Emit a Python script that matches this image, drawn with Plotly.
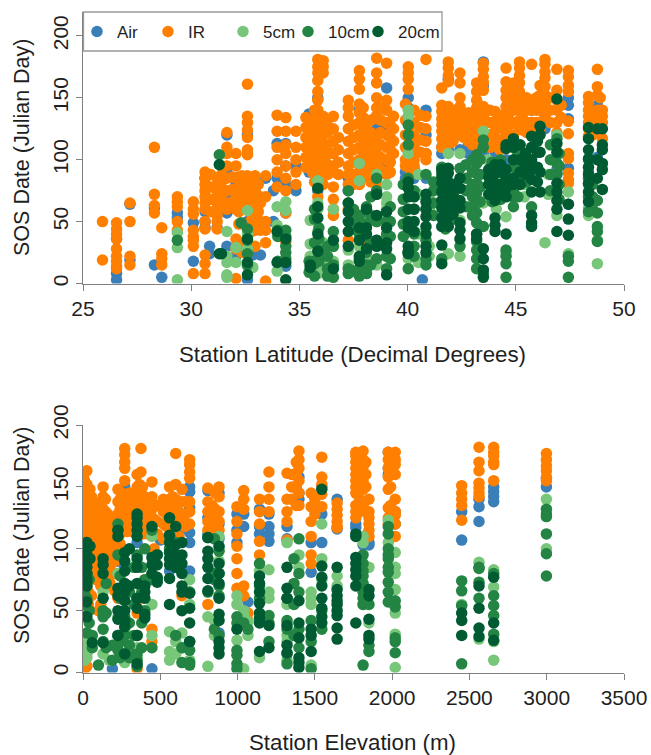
import plotly.graph_objects as go

SERIES = ["Air", "IR", "5cm", "10cm", "20cm"]
COLORS = ["#3b7fb9", "#ff7f00", "#78c679", "#238443", "#005a32"]
LEGEND_WIDTHS = [26, 30, 20, 25, 50]
LAT_TICKS = [25, 30, 35, 40, 45, 50]
ELEV_TICKS = [0, 500, 1000, 1500, 2000, 2500, 3000, 3500]
SOS_TICKS = [0, 50, 100, 150, 200]

# Latitude panel: station latitude, SOS dates read at that latitude
air_lat = [26.55, 27.17, 28.3, 28.64, 29.36, 30.1, 30.64, 30.85, 31.2, 31.65, 32.07, 32.6, 32.85, 32.95, 33.2, 33.44,
           33.8, 33.97, 34.37, 34.84, 35.45, 35.6, 35.85, 36.2, 37.26, 37.77, 38.57, 39.03, 39.9, 40.03, 40.3,
           40.68, 40.85, 41.58, 41.88, 42.42, 42.81, 43.19, 43.5, 44.04, 44.55, 45.73, 46.35, 46.9, 47.43, 48.36, 48.77]
air_lat_sos = [[36, 8, 3], [64, 19], [61, 15], [5], [57, 53], [49, 18], [85, 58, 50, 45], [30, 24], [60, 45], [120, 90, 72, 57, 30],
               [80, 22], [120, 105, 50, 3], [23], [85, 75], [23], [85],
               [75, 50], [113, 85], [113, 95, 80, 57, 14], [95, 75], [137, 125, 115, 100, 90], [128, 110], [150, 137, 120, 75], [125, 110, 95],
               [85, 75], [140, 90, 82], [135, 125, 122, 102], [158, 125, 95, 90], [85, 90, 80], [150, 142, 108, 95], [105, 92, 85],
               [3], [140, 120, 105, 85], [110, 105], [165, 112, 108], [108], [112, 105], [112, 100], [179, 160, 105], [106, 100], [110, 100],
               [140, 130], [130, 125], [92, 88], [150, 144, 133, 93, 64], [100, 90, 80], [144, 102]]

ir_lat = [25.9, 26.55, 27.17, 28.3, 28.64, 29.36, 30.1, 30.64, 31.2, 31.65, 32.07, 32.35, 32.6, 32.95, 33.2, 33.44, 33.97, 34.37, 34.84,
          35.45, 35.6, 35.85, 36.1, 36.57, 37.26, 37.77, 38.1, 38.57, 39.03, 39.9, 40.03, 40.3, 40.85, 41.58, 41.88, 42.1,
          42.42, 42.81, 43.19, 43.5, 43.8, 44.04, 44.55, 44.89, 45.17, 45.5, 45.73, 46.12, 46.35, 46.9, 47.43, 48.36, 48.77, 49.0,
          30.9, 31.4, 31.9, 32.2, 32.8, 33.1, 35.3, 35.7, 36.3, 36.8, 37.5, 37.95, 38.3, 38.75, 39.2, 39.35, 40.15, 40.6,
          41.7, 42.0, 42.6, 43.0, 43.35, 44.25, 44.7, 45.3, 45.95, 46.6, 47.1, 48.55, 48.9]
ir_lat_sos = [[50, 19], [49, 44, 40, 36, 28, 22, 18, 14, 12], [65, 50, 22, 15], [110, 72, 63, 57], [45, 24, 20, 15], [70, 66, 62, 50, 43],
              [66, 60, 56, 43, 38, 35, 30, 8], [90, 85, 80, 75, 70, 65, 60, 50, 44, 23, 16, 8], [85, 80, 75, 70, 65, 60, 55, 50, 44],
              [122, 110, 105, 95, 85, 75, 65, 60], [105, 95, 85, 72, 65, 60, 36, 28, 4], [87, 80, 72, 66, 62, 33, 25],
              [161, 135, 130, 124, 118, 108, 104, 87, 80, 72, 65, 60, 44], [87, 80, 75, 68, 60, 50, 43, 30], [70, 65, 50, 45, 43], [87, 70, 50, 43, 33, 2],
              [136, 123, 110, 100, 90, 78], [134, 123, 112, 105, 95, 85, 75, 57, 34], [123, 110, 100, 90, 80],
              [120, 112, 105, 98], [128, 120, 112, 104, 96, 90], [181, 175, 170, 164, 155, 148, 140, 135, 125, 115, 105, 95, 85, 70],
              [180, 175, 170, 135, 128, 120, 112, 105, 98, 90, 80], [135, 125, 115, 105, 95, 90, 78, 68, 60, 55],
              [148, 142, 135, 125, 115, 105, 95, 88, 80, 60, 35], [172, 165, 157, 145, 138, 130, 120, 110, 100, 90, 80],
              [125, 118, 108, 100, 95, 92, 88, 58, 36], [182, 170, 162, 150, 142, 135, 115, 105, 97, 90, 85, 80], [178, 148, 140, 130, 120, 110, 100, 90, 88],
              [145, 132, 120, 110, 100, 95], [175, 170, 165, 157, 130, 120, 100], [140, 130, 120, 110, 100, 95], [181, 135, 125, 115, 105, 100],
              [158, 144, 139, 133, 128, 123, 117, 110], [179, 174, 168, 163, 143, 135, 128, 113], [140, 130, 122, 115],
              [170, 162, 150, 143, 136, 131, 125, 120], [138, 130, 122, 115], [162, 155, 148, 142, 135, 128, 121, 115], [178, 173, 167, 162, 156, 143, 135],
              [140, 130, 120, 110], [139, 131, 123, 115], [174, 163, 156, 150, 143, 136, 130, 121], [162, 155, 148, 140, 130, 120, 110],
              [179, 174, 168, 162, 155, 148, 140, 132, 125], [150, 140, 130, 122], [177, 148, 140, 130, 122], [160, 152, 145, 140, 130, 125],
              [181, 177, 171, 166, 159, 152, 145, 135], [173, 156, 148, 140, 130, 122], [172, 167, 160, 155, 131, 121, 105, 101, 89, 84, 81],
              [151, 146, 140, 135, 130, 125, 119], [173, 159, 152, 140, 135, 129], [140, 135, 130, 117],
              [88, 78, 68, 58], [88, 82, 72, 62], [86, 76, 66], [86, 78, 68, 58, 48], [82, 72, 62, 52, 42], [80, 70, 58, 46],
              [134, 126, 118, 110, 102, 94], [140, 132, 122, 112, 102, 92, 82], [132, 122, 112, 104, 96, 88], [118, 108, 98, 88],
              [128, 118, 108, 98, 88, 80], [142, 134, 126, 116, 106, 96, 86], [132, 122, 112, 102, 92, 82],
              [142, 132, 122, 112, 102, 92], [128, 118, 108, 98, 90], [135, 125, 115, 105], [128, 118, 108, 98, 88], [136, 126, 116, 106],
              [140, 130, 120, 116], [134, 124, 114], [134, 126, 118], [128, 120, 112], [140, 130, 122, 114], [136, 126, 116, 108],
              [148, 138, 128, 118], [144, 134, 124], [150, 140, 130], [150, 140, 130], [144, 134], [138, 128, 120], [150, 140, 130, 122]]

cm5_lat = [29.36, 31.65, 32.07, 32.6, 32.85, 33.97, 34.37, 35.5, 35.85, 36.1, 36.57, 37.26, 37.77, 38.1, 38.57, 39.03, 40.03, 40.5,
           41.0, 41.88, 42.42, 43.5, 44.55, 44.89, 46.35, 46.9, 47.43, 48.36, 48.77, 42.9, 43.7, 44.1, 45.4, 46.5]
cm5_lat_sos = [[41, 29, 3], [42, 22, 17, 7, 5], [29, 17], [59, 40, 28, 14], [13], [62, 47, 10], [66, 59], [51, 32, 22], [83, 65, 60, 42, 12, 8], [33, 22, 15],
               [60, 30, 18], [27, 15, 12], [97, 83, 55, 30, 8], [52, 20, 12], [88, 50, 35, 15], [80, 70, 65, 60, 52, 38, 22],
               [140, 135, 105, 25, 20], [88, 72, 40, 17], [72, 60, 30, 22], [105, 60, 24], [105, 51, 22], [123, 65], [54, 25], [115, 75, 70],
               [33], [120, 55], [74, 24], [61, 55], [35, 16], [75, 62], [100, 68], [82, 60], [80, 70], [88, 72]]

cm10_lat = [29.36, 31.3, 32.3, 32.6, 34.0, 34.37, 35.45, 35.7, 36.57, 37.26, 37.77, 38.1, 38.57, 39.03, 40.03, 40.3, 40.85,
            41.58, 42.1, 42.42, 43.19, 43.5, 44.55, 44.89, 45.73, 46.9, 47.43, 48.36, 48.77,
            35.9, 36.3, 37.5, 38.3, 39.2, 39.8, 41.2, 41.75, 42.7, 43.0, 43.35, 43.9, 44.3, 45.1, 45.5, 46.6, 47.0, 48.55]
cm10_lat_sos = [[35], [104], [49], [44, 35, 24, 15], [43, 38, 18], [43, 38, 30, 25, 20], [18, 9], [60, 52, 33, 18, 16, 6], [42, 30, 15, 5], [75, 65, 12, 8], [55, 50, 40, 20, 12, 10, 6],
                [62, 48, 38, 25, 15, 8], [85, 75, 50, 20], [50, 40, 22, 12], [128, 120, 112, 85, 48, 42, 25, 12], [75, 60, 40, 30, 22], [88, 60, 35, 20, 15],
                [94, 89, 20], [80, 70, 60, 52], [93, 30], [104, 97, 89, 81, 73, 65, 57, 49, 40, 34, 27, 20, 12], [116, 110, 46, 8], [27, 22, 16, 5], [94, 85, 75, 70, 62],
                [62], [117, 97, 89], [22, 18, 5], [85, 70, 58], [67, 57, 46, 42, 34],
                [45, 36, 27, 18], [30, 22, 12, 6], [60, 52, 44, 10], [70, 55, 32, 15], [62, 50, 38, 20], [80, 68, 58, 48, 38], [82, 75, 65, 55],
                [90, 80, 70, 60, 52, 44], [96, 85, 75, 62], [100, 90, 80, 70, 62, 55], [100, 88, 78, 66], [98, 88, 76, 66], [100, 90, 80, 68], [105, 92, 82, 70], [102, 92, 82], [112, 100, 88, 75], [105, 95, 80, 68], [80, 70, 60]]

cm20_lat = [31.3, 31.4, 32.6, 33.97, 34.37, 35.5, 35.85, 36.57, 37.26, 37.77, 38.1, 38.57, 39.03, 40.03, 40.3, 40.85, 41.58, 41.88, 42.42, 43.19, 43.5,
            44.04, 44.55, 44.89, 45.73, 46.12, 46.9, 47.43, 48.36, 48.77, 49.0, 41.7, 42.1, 43.75, 44.3, 45.2, 45.45, 46.0]
cm20_lat_sos = [[96, 24], [24], [36, 17, 7], [42, 17], [36, 17, 3], [15, 13], [77, 62, 53, 40, 26], [35, 12], [65, 58, 50, 42, 30], [45, 35, 22, 18],
                [60, 45, 40, 28], [72, 55, 35, 30], [58, 45, 33, 28, 7], [82, 77, 70, 60, 50, 45, 30, 26, 24], [70, 60, 50, 42], [72, 66, 60, 54, 46, 40, 30, 25], [92, 86, 81, 74, 67, 61, 53, 46, 31, 16], [93, 89, 82, 77, 70, 65, 59, 54, 46], [85, 77, 67, 61, 49, 43, 36], [40, 36], [28, 20, 11, 5],
                [96, 89, 81, 74, 67, 53, 47, 42], [112, 109, 92, 84, 77, 70, 40], [117, 110, 100, 85, 80], [119, 110, 100, 92, 84, 74, 55, 49, 46], [127, 120, 106, 90, 74], [149, 113, 106, 81, 74, 67, 60, 42], [64, 52, 39], [126, 117, 108, 101, 94, 88, 81, 74, 66], [125, 100, 85], [125, 112, 108, 97, 92, 76],
                [90, 84, 75, 68, 60], [80, 72, 64, 56], [92, 86, 80, 72], [96, 90, 80, 72], [112, 100, 90, 80], [105, 96, 88], [115, 106, 94, 82]]

# Elevation panel: station elevation in metres, SOS dates read at that elevation
air_elev = [25, 60, 130, 190, 226, 270, 350, 446, 500, 560, 600, 650, 690, 808, 880, 996, 1040, 1067, 1142, 1203, 1320, 1397, 1476, 1545, 1644, 1765, 1812, 1850, 1975, 2020, 2450, 2562, 2657, 2998]
air_elev_sos = [[120, 100], [115], [100, 90], [3], [115, 90], [150, 85], [105], [3, 97, 78], [107], [82], [130, 125], [117, 80], [150, 146, 133, 113, 105, 82], [147, 125, 112], [145, 120, 108, 32], [128, 115, 105], [128, 118], [57], [132, 118, 112], [128, 118, 112, 106], [118, 108], [158, 145, 140], [105, 81], [150, 128, 105], [140, 116], [120, 117], [110, 103], [105, 103], [178, 165, 160], [130, 120], [130, 107], [140, 134, 122], [150, 146, 142, 138], [157, 150]]

ir_elev = [10, 25, 45, 70, 100, 130, 160, 190, 226, 250, 270, 300, 330, 350, 375, 400, 446, 480, 520, 560, 600, 640, 690, 808, 880, 996, 1040, 1067, 1142, 1203, 1320, 1397, 1476, 1545, 1644, 1765, 1812, 1850, 1975, 2020, 2450, 2562, 2657, 2998,
           5, 35, 55, 85, 115, 145, 175, 205, 240, 285, 315, 365, 385, 420, 460, 540, 580, 620, 660, 835, 855, 1350, 1380, 1500, 1790, 1830, 1990]
ir_elev_sos = [[155, 148, 140, 130, 120, 110, 100, 3], [163, 152, 145, 135, 125, 115, 105, 5], [148, 140, 130, 120, 110], [138, 128, 118, 108, 98],
               [135, 125, 115, 105, 95, 50], [150, 142, 132, 122, 112, 100, 90, 48], [128, 118, 108, 98, 88, 75], [122, 112, 102, 92, 80],
               [148, 138, 128, 118, 108, 60], [145, 135, 125, 115], [181, 176, 170, 165, 155, 142, 132], [145, 135, 125, 115], [140, 130, 120],
               [160, 150, 142, 132, 122, 48, 30, 3], [181, 162, 148, 138, 128, 118, 60], [142, 132, 122, 75], [154, 142, 132, 118, 35, 25],
               [135, 122, 112], [140, 130, 120, 108], [150, 140, 130, 120], [177, 152, 140, 130], [148, 138, 125, 62], [172, 168, 162, 157, 138, 130, 120],
               [149, 138, 130, 122, 115, 55], [150, 142, 130, 122, 115], [134, 122, 112, 102, 92, 80, 68], [147, 140, 132, 70, 62], [48, 42], [140, 130, 120, 106, 95],
               [162, 150, 140, 130], [161, 140, 130, 122, 107], [179, 172, 165, 155, 145, 135], [145, 134, 122, 110, 95, 88], [174, 158, 152, 144, 134], [137, 132, 127, 122, 117, 118],
               [178, 175, 170, 165, 160, 155, 150, 145, 135, 130, 125], [179, 172, 166, 160, 155, 148, 135], [140, 130, 125, 120, 115, 110], [178, 172, 165, 158, 148, 133, 125, 120], [178, 172, 168, 160, 140, 130, 127, 120, 110],
               [151, 145, 140, 135, 123], [182, 170, 163, 153, 149, 145, 142], [182, 178, 175, 170, 168, 155], [177, 172, 167, 163, 158, 155],
               [160, 150, 142, 134, 126, 118, 108, 72], [148, 140, 132, 124, 116, 106, 96, 65, 55], [142, 134, 126, 118, 110, 100, 90, 78, 62], [132, 124, 116, 106, 96, 86, 75], [128, 120, 112, 102, 92, 82, 70, 55], [140, 130, 122, 112, 102, 92, 82, 70], [124, 114, 104, 94, 84, 72], [118, 110, 100, 90, 80, 66],
               [140, 132, 122, 112, 104], [140, 130, 122, 114], [142, 132, 124, 114], [152, 142, 134, 126, 116], [150, 140, 132, 122, 112], [140, 130, 122, 112], [124, 112, 100], [138, 128, 118], [142, 132, 122], [138, 130, 120, 110], [138, 128, 118], [135, 125, 115], [145, 132, 120], [160, 150, 140], [170, 160, 150, 135], [140, 128], [168, 150, 140, 130], [170, 160, 150, 130], [150, 135, 125]]

cm5_elev = [10, 25, 130, 170, 226, 270, 350, 446, 560, 600, 640, 690, 808, 850, 880, 996, 1040, 1067, 1142, 1203, 1320, 1397, 1476, 1545, 1644, 1812, 1850, 1975, 2020, 2450, 2562, 2657, 2998]
cm5_elev_sos = [[30, 20, 15, 10], [25, 15, 12], [65, 15], [10], [80, 45, 20], [70, 35, 8], [60, 30, 20, 12], [110, 55, 30], [100, 33, 17, 10], [25, 15], [32, 20], [75, 65, 55, 10], [45, 5], [42, 30], [110, 100, 90], [62, 55, 26], [50, 45, 3], [41, 30], [82, 12], [83, 65, 60], [105, 60, 55, 40, 30, 25, 10], [95, 85], [65, 60, 55, 6], [120, 92, 75], [78, 70], [110, 105, 55], [85, 40], [123, 105], [97, 85, 80, 67, 48, 31, 4], [55], [89, 27], [83, 69, 25, 10], [140, 100]]

cm10_elev = [10, 25, 60, 100, 130, 190, 226, 270, 350, 400, 446, 480, 560, 600, 640, 690, 808, 850, 880, 996, 1040, 1067, 1142, 1203, 1320, 1397, 1476, 1545, 1812, 1850, 1975, 2020, 2450, 2562, 2657, 2998,
             40, 150, 240, 300, 330, 380, 1365, 1785]
cm10_elev_sos = [[65, 55, 45], [80, 70, 60, 32], [30, 20], [6], [50, 45, 35, 25], [22, 10], [120, 115, 95, 30, 18], [45, 30, 15], [95, 60, 15, 10, 5], [100, 75, 50], [115, 75, 20], [95, 75], [110, 100], [30, 105], [8, 20], [65, 25, 18, 8, 6], [109, 65], [108, 80, 75, 35], [98, 80, 70, 62, 30], [45, 40, 18, 14, 7, 3], [40], [35], [88, 70, 60], [46, 40, 25], [60, 42, 35, 15, 7], [108, 80, 65, 35, 20], [42, 25, 3], [50, 35], [95, 88, 82, 78, 72, 65, 60, 55, 6], [55, 22, 17], [118, 112, 100, 95, 92, 85, 81, 73, 65, 57], [58, 53, 28, 25, 16], [74, 66, 54, 7], [85, 84, 73, 60], [80, 62, 54, 46, 31], [132, 128, 126, 112, 96, 78],
                 [75, 50, 40], [72, 48, 20], [78, 60, 45, 25, 12], [65, 40, 22, 12], [85, 55, 30, 14], [85, 65, 40, 20], [92, 72, 55, 30], [90, 82, 72]]

cm20_elev = [25, 45, 60, 130, 226, 270, 300, 350, 400, 446, 480, 560, 600, 640, 690, 808, 880, 996, 1040, 1142, 1203, 1320, 1397, 1476, 1545, 1644, 1765, 1850, 2450, 2562, 2657]
cm20_elev_sos = [[105, 100, 95, 90, 85, 80, 75, 70, 57, 45], [102, 92], [24], [92, 87, 80, 60, 24], [115, 110, 68, 62, 50, 43, 30], [97, 90, 82, 72, 65, 58, 50, 42, 37, 15], [100, 70], [128, 125, 120, 115, 110, 92, 85, 72, 60, 52, 30, 7], [70, 65, 60, 47, 44], [118, 93, 87, 80], [95, 87, 77, 73], [125, 111, 105, 97, 92, 87, 55, 76], [118, 103, 95, 90, 85], [105, 95, 88, 80, 70, 65, 50], [64, 52, 40, 25], [109, 98, 92, 85, 76, 66], [102, 88, 80, 72, 60, 47, 42, 25, 20, 15], [35], [], [78, 72, 65, 56, 48, 44, 40, 17], [38, 20], [85, 68, 60, 38, 22, 16], [58, 40, 28, 12, 8, 4], [35, 30, 17], [148, 86, 77, 70, 60, 52, 45, 40], [85, 67, 62, 58, 55, 50, 46, 36, 27], [112, 110, 93, 88, 83, 78, 70, 40], [67, 62, 43, 30, 27], [48, 42, 30], [70, 52, 36, 29], [77, 40, 26]]

LAT_PANEL = [(air_lat, air_lat_sos), (ir_lat, ir_lat_sos), (cm5_lat, cm5_lat_sos), (cm10_lat, cm10_lat_sos), (cm20_lat, cm20_lat_sos)]
ELEV_PANEL = [(air_elev, air_elev_sos), (ir_elev, ir_elev_sos), (cm5_elev, cm5_elev_sos), (cm10_elev, cm10_elev_sos), (cm20_elev, cm20_elev_sos)]

W, H = 651, 755


def xf(p):
    return p / W


def yf(p):
    return 1 - p / H


def flatten(xs, yss):
    out_x, out_y = [], []
    for x, ys in zip(xs, yss):
        for y in ys:
            out_x.append(x)
            out_y.append(y)
    return out_x, out_y


fig = go.Figure()
for (panel, xa, ya, show) in [(LAT_PANEL, "x", "y", True), (ELEV_PANEL, "x2", "y2", False)]:
    for name, color, lw, (xs, yss) in zip(SERIES, COLORS, LEGEND_WIDTHS, panel):
        fx, fy = flatten(xs, yss)
        fig.add_trace(go.Scatter(x=fx, y=fy, mode="markers", name=name, showlegend=show, legendwidth=lw,
                                 xaxis=xa, yaxis=ya, marker=dict(color=color, size=11.5, line=dict(width=0))))

AXIS = dict(showgrid=False, zeroline=False, showline=True, linecolor="#808080", linewidth=1.2, ticks="outside",
            tickcolor="#808080", ticklen=6, tickwidth=1.2, tickfont=dict(size=21, color="#1f1f1f"))
fig.update_layout(
    width=W, height=H, margin=dict(l=0, r=0, t=0, b=0, autoexpand=False), paper_bgcolor="white", plot_bgcolor="white",
    font=dict(family="Liberation Sans, Arial, sans-serif", color="#1f1f1f"),
    xaxis=dict(AXIS, domain=[xf(83), xf(624)], range=[25, 50], tickvals=LAT_TICKS, anchor="y"),
    yaxis=dict(AXIS, domain=[yf(283.5), yf(12)], range=[0, 219.3], tickvals=SOS_TICKS, tickangle=-90, anchor="x"),
    xaxis2=dict(AXIS, domain=[xf(83), xf(624)], range=[0, 3500], tickvals=ELEV_TICKS, anchor="y2"),
    yaxis2=dict(AXIS, domain=[yf(672.5), yf(425)], range=[0, 200], tickvals=SOS_TICKS, tickangle=-90, anchor="x2"),
    legend=dict(orientation="h", x=xf(77), y=yf(32), xanchor="left", yanchor="middle", bgcolor="rgba(0,0,0,0)",
                font=dict(size=17, color="#1f1f1f"), entrywidth=25, entrywidthmode="pixels", itemwidth=30, itemclick=False),
    shapes=[dict(type="rect", xref="paper", yref="paper", x0=xf(83.5), x1=xf(442), y0=yf(51), y1=yf(12),
                 fillcolor="white", line=dict(color="#999999", width=1.3), layer="above")],
    annotations=[
        dict(text="SOS Date (Julian Day)", x=xf(22), y=yf(148), textangle=-90, font=dict(size=21.5, color="#1f1f1f")),
        dict(text="SOS Date (Julian Day)", x=xf(22), y=yf(536), textangle=-90, font=dict(size=21.5, color="#1f1f1f")),
        dict(text="Station Latitude (Decimal Degrees)", x=xf(353), y=yf(355), font=dict(size=22.3, color="#1f1f1f")),
        dict(text="Station Elevation (m)", x=xf(353), y=yf(742.5), font=dict(size=22.3, color="#1f1f1f")),
    ],
)
for a in fig.layout.annotations:
    a.update(xref="paper", yref="paper", showarrow=False, xanchor="center", yanchor="middle")

fig.write_html("out.html", config={"displayModeBar": False},
               post_script="document.body.style.margin='0';document.documentElement.style.overflow='hidden';")
